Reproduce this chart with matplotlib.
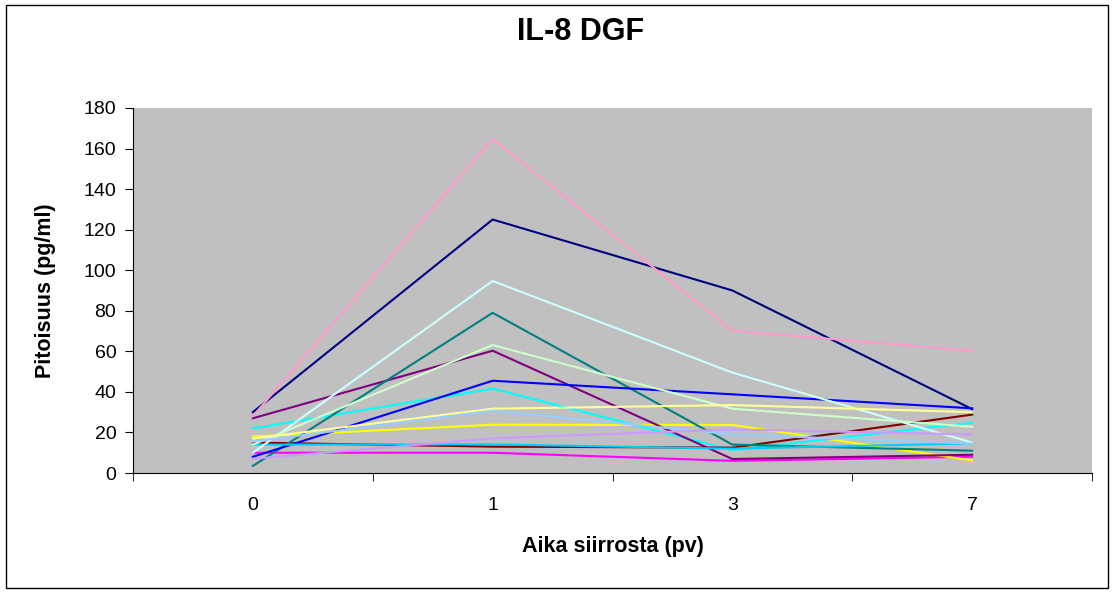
import matplotlib.pyplot as plt
from matplotlib.patches import Rectangle
import numpy as np

plt.rcParams['font.family'] = ['Liberation Sans', 'DejaVu Sans']

# sampling days (categories)
days = ["0", "1", "3", "7"]

# IL-8 concentrations per patient (pg/ml)
navy = [30, 125, 90, 31.5]
magenta = [10, 10, 6, 8]
yellow = [18, 23.8, 23.7, 6.2]
cyan = [22, 41.6, 11.3, 24.8]
purple = [27, 60.3, 6.9, 9]
maroon = [15, 13, 12.5, 28.8]
teal = [3.5, 79, 14, 11]
blue = [8, 45.5, 38.8, 31.9]
skyblue = [14, 14.1, 12, 14.6]
lightcyan = [10, 94.7, 49.5, 15]
lightgreen = [14, 63.1, 31.7, 22.8]
paleyellow = [17, 31.7, 33.5, 30]
lightblue = [15.5, 30.7, 19, 14.5]
pink = [28, 164.7, 70.2, 60.3]
lavender = [7, 17.1, 21.5, 19]

series = [navy, magenta, yellow, cyan, purple, maroon, teal, blue,
          skyblue, lightcyan, lightgreen, paleyellow, lightblue, pink, lavender]
colors = ["#000080", "#FF00FF", "#FFFF00", "#00FFFF", "#800080", "#800000",
          "#008080", "#0000FF", "#00CCFF", "#CCFFFF", "#CCFFCC", "#FFFF99",
          "#99CCFF", "#FF99CC", "#CC99FF"]

fig = plt.figure(figsize=(11.14, 5.94), dpi=100)
ax = fig.add_axes([0.1194, 0.2037, 0.8609, 0.6145])
ax.set_facecolor("#C0C0C0")

x = np.arange(len(days))
for s, c in zip(series, colors):
    ax.plot(x, s, color=c, linewidth=1.5)

ax.set_xlim(-0.5, 3.5)
ax.set_ylim(0, 180)
ax.set_yticks(range(0, 181, 20))
ax.set_xticks(x)
ax.set_xticklabels(days)
ax.set_xticks(np.arange(-0.5, 3.6, 1), minor=True)
ax.tick_params(axis='x', which='major', length=0, labelsize=14, pad=17)
ax.tick_params(axis='x', which='minor', length=6, direction='out')
ax.tick_params(axis='y', length=6, direction='out', labelsize=14, pad=6)

for side in ['top', 'right']:
    ax.spines[side].set_visible(False)

fig.text(0.5215, 1 - 32.5 / 594, "IL-8 DGF", fontsize=22, fontweight='bold',
         ha='center', va='center')
ax.set_xlabel("Aika siirrosta (pv)", fontsize=15.5, fontweight='bold', labelpad=16)
ax.set_ylabel("Pitoisuus (pg/ml)", fontsize=15.5, fontweight='bold', labelpad=20)

fig.patches.append(Rectangle((0.005, 0.01), 0.99, 0.982, transform=fig.transFigure,
                             fill=False, edgecolor='black', linewidth=1))

plt.savefig('out.png', dpi=100)
